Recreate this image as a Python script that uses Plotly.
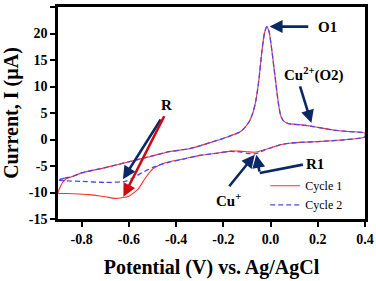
import plotly.graph_objects as go

# Forward (anodic) sweep, shared by both cycles
fwd_v = [-0.84, -0.8, -0.7, -0.6, -0.5, -0.43, -0.35, -0.3, -0.25, -0.2, -0.17, -0.13, -0.11,
         -0.09, -0.075, -0.062, -0.05, -0.037, -0.026, -0.016, -0.006, 0.005, 0.019, 0.033,
         0.043, 0.055, 0.075, 0.12, 0.173, 0.264, 0.33, 0.4]
fwd_i = [-7.0, -6.3, -5.3, -4.2, -3.1, -2.3, -1.8, -1.2, -0.5, 0.2, 0.7, 1.4, 2.2,
         3.4, 5.0, 7.4, 11.0, 16.5, 20.0, 21.3, 20.3, 17.0, 11.9, 6.9,
         4.5, 3.5, 3.0, 2.8, 2.5, 1.8, 1.5, 1.2]

# Cycle 1 start of forward sweep
c1_start_v = [-0.9, -0.893, -0.882, -0.865]
c1_start_i = [-10.1, -9.2, -8.2, -7.4]
# Cycle 2 start of forward sweep
c2_start_v = [-0.9, -0.87]
c2_start_i = [-7.6, -7.25]

# Return (cathodic) sweeps
c1_ret_v = [0.4, 0.3, 0.2, 0.125, 0.08, 0.04, 0.0, -0.025, -0.05, -0.07, -0.1, -0.13, -0.17,
            -0.23, -0.3, -0.36, -0.43, -0.47, -0.5, -0.532, -0.56, -0.6, -0.63, -0.66, -0.7,
            -0.77, -0.86, -0.9]
c1_ret_i = [0.5, -0.1, -0.4, -0.55, -0.7, -1.0, -1.6, -1.9, -2.25, -2.4, -2.3, -2.2, -2.2,
            -2.6, -3.0, -3.6, -4.2, -4.8, -5.6, -7.4, -9.3, -10.7, -11.0, -11.1, -10.8,
            -10.4, -10.2, -10.1]
c2_ret_v = [0.4, 0.3, 0.2, 0.125, 0.08, 0.04, 0.0, -0.025, -0.05, -0.07, -0.1, -0.13, -0.17,
            -0.23, -0.3, -0.36, -0.43, -0.47, -0.5, -0.546, -0.58, -0.616, -0.7, -0.8, -0.86, -0.9]
c2_ret_i = [0.5, -0.1, -0.4, -0.55, -0.7, -1.0, -1.6, -2.0, -2.5, -2.7, -2.6, -2.35, -2.25,
            -2.6, -3.0, -3.6, -4.3, -4.8, -5.3, -6.3, -7.2, -7.9, -8.1, -7.9, -7.8, -7.6]

x_ticks = [-0.8, -0.6, -0.4, -0.2, 0.0, 0.2, 0.4]
x_tick_text = ["-0.8", "-0.6", "-0.4", "-0.2", "0.0", "0.2", "0.4"]
y_ticks = [-15, -10, -5, 0, 5, 10, 15, 20, 25]

SERIF = "Liberation Serif, Times New Roman, serif"
NAVY = "#0b2866"
RED_ARROW = "#cc0a14"

fig = go.Figure()
fig.add_trace(go.Scatter(
    x=c1_start_v + fwd_v + c1_ret_v, y=c1_start_i + fwd_i + c1_ret_i,
    mode="lines", name="Cycle 1",
    line=dict(color="#ff3030", width=1.1, shape="spline", smoothing=0.6)))
fig.add_trace(go.Scatter(
    x=c2_start_v + fwd_v + c2_ret_v, y=c2_start_i + fwd_i + c2_ret_i,
    mode="lines", name="Cycle 2",
    line=dict(color="#4848f0", width=1.3, dash="5px,3px", shape="spline", smoothing=0.6)))

def arrow(x, y, ax, ay, color):
    fig.add_annotation(x=x, y=y, ax=ax, ay=ay, xref="x", yref="y", axref="x", ayref="y",
                       text="", showarrow=True, arrowhead=2, arrowsize=1, arrowwidth=2.6,
                       arrowcolor=color)

def label(x, y, text):
    fig.add_annotation(x=x, y=y, xref="x", yref="y", text=text, showarrow=False,
                       font=dict(family=SERIF, size=15, color="black"))

# R
label(-0.44, 6.6, "<b>R</b>")
arrow(-0.625, -7.5, -0.461, 4.05, NAVY)
arrow(-0.623, -10.8, -0.447, 4.67, RED_ARROW)
# O1
label(0.242, 21.3, "<b>O1</b>")
arrow(-0.004, 21.3, 0.166, 21.3, NAVY)
# Cu2+(O2)
label(0.186, 12.2, "<b>Cu<sup>2+</sup>(O2)</b>")
arrow(0.173, 3.1, 0.123, 10.3, NAVY)
# Cu+
label(-0.18, -11.4, "<b>Cu<sup>+</sup></b>")
arrow(-0.067, -2.9, -0.18, -9.1, NAVY)
# R1
label(0.19, -4.7, "<b>R1</b>")
fig.add_shape(type="line", x0=0.137, y0=-4.74, x1=-0.046, y1=-6.31, xref="x", yref="y",
              line=dict(color=NAVY, width=2.6))
arrow(-0.060, -2.9, -0.046, -6.31, NAVY)

axis_common = dict(showgrid=False, zeroline=False, showline=True, linecolor="black",
                   linewidth=2.5, mirror=True, ticks="outside", ticklen=5, tickwidth=2,
                   tickcolor="black",
                   tickfont=dict(family=SERIF, size=14, color="black"))

fig.update_xaxes(range=[-0.9, 0.4], tickvals=x_ticks,
                 ticktext=["<b>%s</b>" % t for t in x_tick_text],
                 title=dict(text="<b>Potential (V) vs. Ag/AgCl</b>",
                            font=dict(family=SERIF, size=20, color="black"), standoff=15),
                 **axis_common)
fig.update_yaxes(range=[-15, 25], tickvals=y_ticks,
                 ticktext=["<b>%d</b>" % t for t in y_ticks],
                 title=dict(text="<b>Current, I (µA)</b>",
                            font=dict(family=SERIF, size=20, color="black"), standoff=8),
                 **axis_common)

fig.update_layout(
    width=376, height=281,
    margin=dict(l=58, r=11, t=7, b=61.5, autoexpand=False),
    plot_bgcolor="white", paper_bgcolor="white",
    showlegend=True,
    legend=dict(x=0.675, y=0.225, xanchor="left", yanchor="top",
                bgcolor="rgba(0,0,0,0)", font=dict(family=SERIF, size=12, color="black"),
                tracegroupgap=0, itemwidth=30),
)

fig.write_html("out.html", config={"displayModeBar": False},
               post_script="document.body.style.margin='0px';document.body.style.overflow='hidden';")
